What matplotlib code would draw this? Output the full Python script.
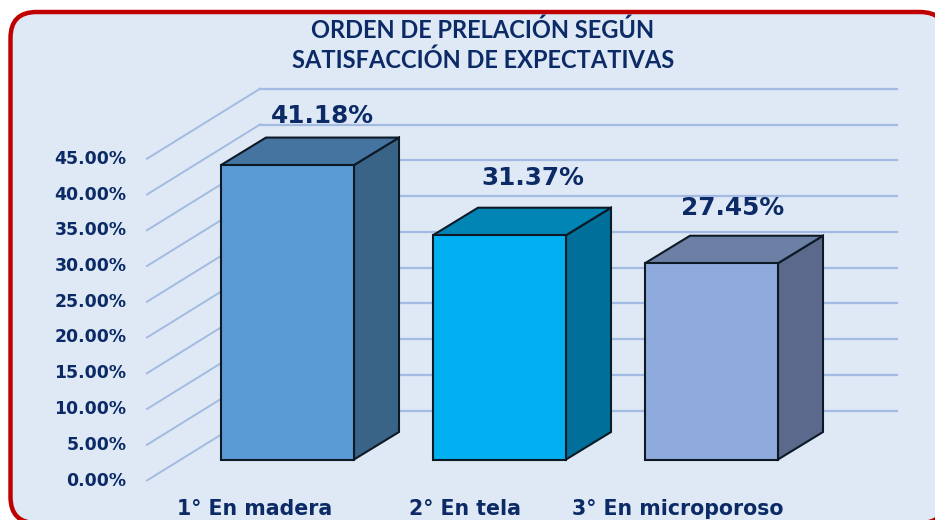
#!/usr/bin/env python3
"""Fake-3D column chart: orden de prelacion segun satisfaccion de expectativas."""
import matplotlib; matplotlib.use("Agg"); import matplotlib.pyplot as plt
from matplotlib.patches import FancyBboxPatch, Polygon
from matplotlib.transforms import Affine2D

categories = ["1° En madera", "2° En tela", "3° En microporoso"]
values = [41.18, 31.37, 27.45]
ticks = [0, 5, 10, 15, 20, 25, 30, 35, 40, 45]
title = "ORDEN DE PRELACIÓN SEGÚN\nSATISFACCIÓN DE EXPECTATIVAS"

front_cols = ["#5B9BD5", "#00B0F0", "#8FAADC"]
top_cols = ["#44749F", "#0085B5", "#6C80A5"]
side_cols = ["#396488", "#006F9A", "#5B6A8C"]
NAVY = "#0B2A66"; GRID = "#A3BAE2"; PANEL = "#DEE9F5"; RED = "#C00000"

W, H = 935, 520
PITCH = 212; PCT = 7.15; X0 = 287.5; Y0 = 459.5   # px per category, px per %, origin of bars
BAR_W = 133 / PITCH
DX, DY = 45 / PITCH, 27.5 / PCT                   # bar depth
def xpx(px): return (px - X0) / PITCH
def ypx(py): return (Y0 - py) / PCT

fig = plt.figure(figsize=(W / 100, H / 100), dpi=100)
px_tr = Affine2D().scale(1, -1).translate(0, H)
fig.patches.append(FancyBboxPatch((10.5, 12), 935.5, 511, boxstyle="round,pad=0,rounding_size=26",
        fc=PANEL, ec=RED, lw=3.2, transform=px_tr, figure=fig, zorder=-1))

ax = fig.add_axes([0, 0, 1, 1]); ax.patch.set_alpha(0); ax.axis("off")
ax.set_xlim(xpx(0), xpx(W)); ax.set_ylim(ypx(H), ypx(0))

# side wall lines, front edge at x=147, back wall at x=260 and 70 px higher
y_shift = (Y0 - 480.5) / PCT
for t in ticks:
    y = t + y_shift
    ax.plot([xpx(147), xpx(260)], [y, y + 70 / PCT], color=GRID, lw=1.4, zorder=1)
    ax.plot([xpx(260), xpx(897)], [y + 70 / PCT, y + 70 / PCT], color=GRID, lw=1.6, zorder=1)
    ax.text(xpx(126.5), y, f"{t:.2f}%", ha="right", va="center", color=NAVY, fontsize=12.4,
            fontweight="bold", family="DejaVu Sans", zorder=5)

label_dx = [12, 11, -1]; label_dy = [22, 30, 28]    # px offsets from centre of top face / back edge
for i, v in enumerate(values):
    l, r = i - BAR_W / 2, i + BAR_W / 2
    kw = dict(ec="#0D1A26", lw=1.5, joinstyle="miter", zorder=3)
    ax.add_patch(Polygon([(r, 0), (r + DX, DY), (r + DX, v + DY), (r, v)], fc=side_cols[i], **kw))
    ax.add_patch(Polygon([(l, v), (l + DX, v + DY), (r + DX, v + DY), (r, v)], fc=top_cols[i], **kw))
    ax.add_patch(Polygon([(l, 0), (r, 0), (r, v), (l, v)], fc=front_cols[i], **kw))
    ax.text(i + DX / 2 + label_dx[i] / PITCH, v + DY + label_dy[i] / PCT, f"{v:.2f}%",
            ha="center", va="center", color=NAVY, fontsize=17.8, fontweight="bold", family="DejaVu Sans", zorder=5)

for cx, c in zip([255, 465, 678], categories):
    ax.text(xpx(cx), ypx(509), c, ha="center", va="center", color=NAVY, fontsize=14.8,
            fontweight="bold", family="DejaVu Sans", zorder=5)

ax.text(xpx(483), ypx(45), title, ha="center", va="center", color=NAVY, fontsize=17,
        fontweight="bold", family="Lato", linespacing=1.33, zorder=5)

fig.savefig("out.png", dpi=100)
